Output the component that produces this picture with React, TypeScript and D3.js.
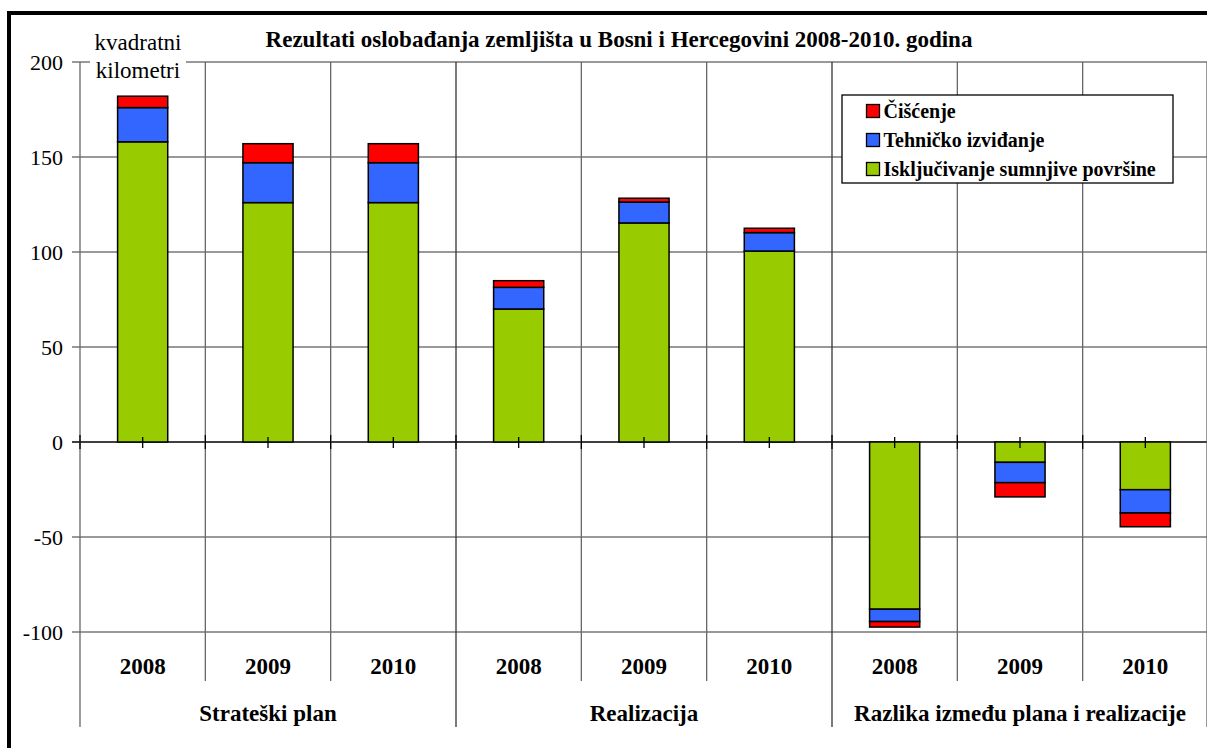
import React from "react";
import * as d3 from "d3";

// values in km²
const groups = ["Strateški plan", "Realizacija", "Razlika između plana i realizacije"];
const years = ["2008", "2009", "2010"];
const iskljucivanje = [158, 126, 126, 70, 115.3, 100.5, -88, -10.7, -25.1];
const tehnicko = [18, 21, 21, 11.4, 11, 9.7, -6.5, -10.7, -12.3];
const ciscenje = [6, 10, 10, 3.5, 2, 2.3, -2.9, -7.5, -7.2];
const yTicks = [200, 150, 100, 50, 0, -50, -100];

const seriesNames = ["Čišćenje", "Tehničko izviđanje", "Isključivanje sumnjive površine"];
const colors: Record<string, string> = {
  isk: "#99CC00",
  teh: "#3366FF",
  cis: "#FF0000",
};

const W = 1207;
const H = 748;
const left = 80;
const right = 1208;
const top = 62;
const bottom = 632;
const serif = "Liberation Serif";

export default function App() {
  const cats = groups.flatMap((g) => years.map((y) => `${g}|${y}`));
  const rows = cats.map((c, i) => ({
    cat: c,
    isk: iskljucivanje[i],
    teh: tehnicko[i],
    cis: ciscenje[i],
  }));

  const x = d3.scaleBand<string>().domain(cats).range([left, right]).padding(0);
  const y = d3.scaleLinear().domain([-100, 200]).range([bottom, top]);
  const bw = x.bandwidth() * 0.4;

  const stack = d3
    .stack<any>()
    .keys(["isk", "teh", "cis"])
    .offset(d3.stackOffsetDiverging);
  const layers = stack(rows);

  const legendKeys = ["cis", "teh", "isk"];

  return (
    <svg
      width={W}
      height={H}
      style={{ position: "absolute", left: 0, top: 0, background: "#fff", fontFamily: serif }}
    >
      <rect x={9} y={13} width={W + 10} height={H + 10} fill="#fff" stroke="#000" strokeWidth={4} />

      {/* horizontal gridlines */}
      {yTicks.map((t) => (
        <g key={t}>
          <line x1={left - 8} x2={right} y1={y(t)} y2={y(t)} stroke={t === 0 ? "#000" : "#777"} strokeWidth={1.3} />
          <text x={63} y={y(t)} dy="0.35em" textAnchor="end" fontSize={22}>
            {t}
          </text>
        </g>
      ))}

      {/* vertical category separators */}
      {cats.map((c, i) => {
        const bx = x(c)!;
        const isGroup = i % 3 === 0;
        return (
          <g key={c}>
            <line
              x1={bx}
              x2={bx}
              y1={top}
              y2={isGroup ? 727 : 681}
              stroke={isGroup && i > 0 ? "#333" : "#666"}
              strokeWidth={1.3}
            />
            <line x1={bx} x2={bx} y1={y(0) - 7} y2={y(0) + 7} stroke="#000" strokeWidth={1.3} />
          </g>
        );
      })}
      <line x1={right - 1} x2={right - 1} y1={top} y2={727} stroke="#666" strokeWidth={1.3} />

      {/* bars */}
      {layers.map((layer) => (
        <g key={layer.key} fill={colors[layer.key]}>
          {layer.map((d, i) => {
            const y0 = y(d[0]);
            const y1 = y(d[1]);
            return (
              <rect
                key={i}
                x={x(cats[i])! + (x.bandwidth() - bw) / 2}
                y={Math.min(y0, y1)}
                width={bw}
                height={Math.abs(y1 - y0)}
                stroke="#000"
                strokeWidth={1.5}
              />
            );
          })}
        </g>
      ))}

      {/* center ticks on zero line */}
      {cats.map((c) => {
        const cx = x(c)! + x.bandwidth() / 2;
        return <line key={c} x1={cx} x2={cx} y1={y(0) - 5} y2={y(0) + 6} stroke="#000" strokeWidth={1.3} />;
      })}

      {/* category labels */}
      {cats.map((c, i) => (
        <text
          key={c}
          x={x(c)! + x.bandwidth() / 2}
          y={674}
          textAnchor="middle"
          fontSize={23}
          fontWeight="bold"
        >
          {years[i % 3]}
        </text>
      ))}
      {groups.map((g, gi) => {
        const x0 = x(cats[gi * 3])!;
        const x1 = x(cats[gi * 3 + 2])! + x.bandwidth();
        return (
          <text key={g} x={(x0 + x1) / 2} y={721} textAnchor="middle" fontSize={23} fontWeight="bold">
            {g}
          </text>
        );
      })}

      {/* unit label */}
      <rect x={90} y={30} width={96} height={54} fill="#fff" />
      <text x={138} y={50} textAnchor="middle" fontSize={23}>
        kvadratni
      </text>
      <text x={138} y={78} textAnchor="middle" fontSize={23}>
        kilometri
      </text>

      {/* title */}
      <text x={619} y={47} textAnchor="middle" fontSize={23} fontWeight="bold">
        Rezultati oslobađanja zemljišta u Bosni i Hercegovini 2008-2010. godina
      </text>

      {/* legend */}
      <rect x={842} y={95} width={331} height={88} fill="#fff" stroke="#000" strokeWidth={1.3} />
      {legendKeys.map((k, i) => (
        <g key={k} transform={`translate(866.5, ${104.5 + i * 29})`}>
          <rect width={13} height={13} fill={colors[k]} stroke="#000" strokeWidth={1.3} />
          <text x={17} y={13.5} fontSize={20} fontWeight="bold">
            {seriesNames[i]}
          </text>
        </g>
      ))}
    </svg>
  );
}
